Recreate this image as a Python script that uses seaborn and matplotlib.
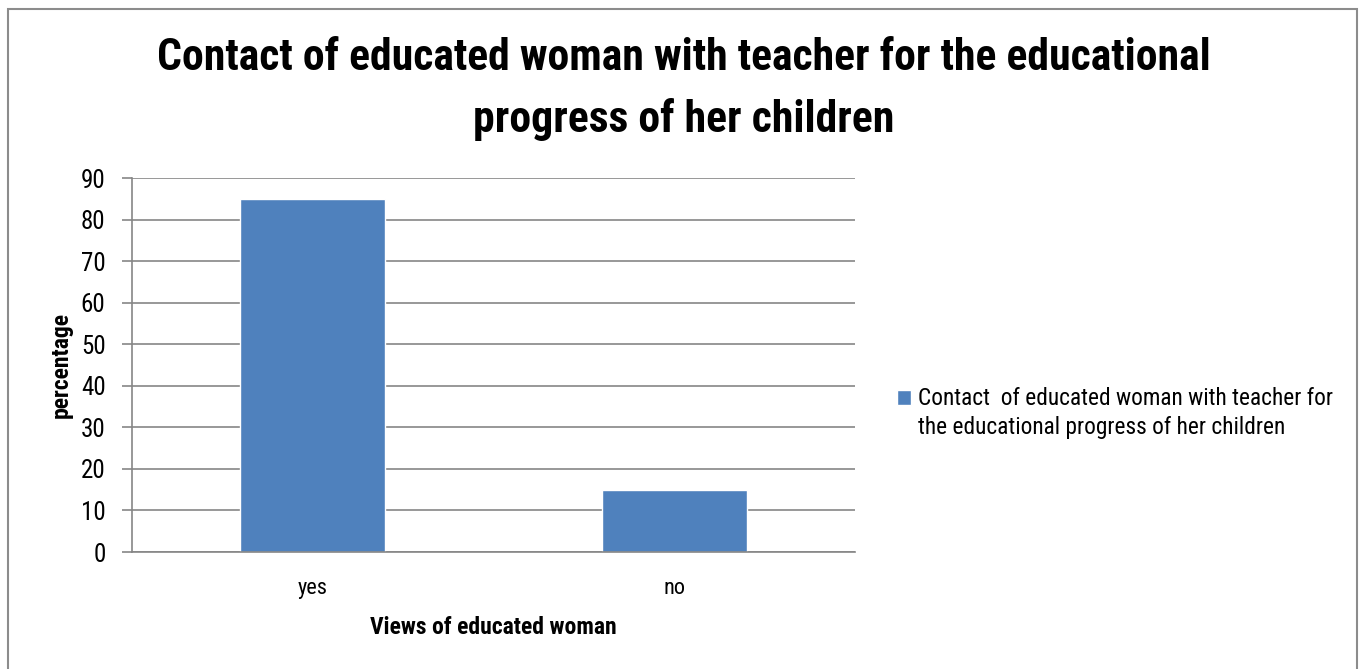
import matplotlib
matplotlib.use("Agg")
import matplotlib.pyplot as plt
import matplotlib.patches as mpatches
from matplotlib.legend_handler import HandlerPatch
import pandas as pd
import seaborn as sns

# Survey answers (percent)
categories = ["yes", "no"]
percentages = [85, 15]
series_name = "Contact  of educated woman with teacher for\nthe educational progress of her children"
title_text = "Contact of educated woman with teacher for the educational\nprogress of her children"
x_label = "Views of educated woman"
y_label = "percentage"
y_ticks = [0, 10, 20, 30, 40, 50, 60, 70, 80, 90]

df = pd.DataFrame({"view": categories, "pct": percentages, "series": series_name})

sns.set_theme(style="white")
plt.rcParams["font.family"] = ["Roboto Condensed", "DejaVu Sans"]
plt.rcParams["text.color"] = "black"

W, H = 1359, 669
fig = plt.figure(figsize=(W / 100, H / 100), dpi=100)
fig.patch.set_facecolor("white")

# outer chart frame
frame = mpatches.Rectangle((8 / W, -0.05), (1357 - 8) / W, 1.05 - 9 / H,
                           transform=fig.transFigure, fill=False,
                           edgecolor="#8c8c8c", linewidth=1.5)
fig.patches.append(frame)

ax = fig.add_axes([132 / W, 1 - 552 / H, (855 - 132) / W, (552 - 178) / H])

bar_color = "#4F81BD"
sns.barplot(data=df, x="view", y="pct", hue="series", palette=[bar_color],
            width=0.4, ax=ax, saturation=1, legend=True)

grid_c = "#868686"
ax.set_ylim(0, 90)
ax.set_xlim(-0.5, 1.5)
ax.set_yticks(y_ticks)
ax.yaxis.grid(True, color=grid_c, linewidth=1.2)
ax.set_axisbelow(True)
for s in ["top", "right"]:
    ax.spines[s].set_visible(False)
for s in ["left", "bottom"]:
    ax.spines[s].set_color(grid_c)
    ax.spines[s].set_linewidth(1.2)
ax.tick_params(axis="y", length=7, width=1.2, color=grid_c, labelsize=18,
               labelcolor="black", pad=12, left=True)
ax.tick_params(axis="x", length=0, labelsize=16, labelcolor="black", pad=19)

ax.set_xlabel(x_label, fontsize=17, fontweight="bold", labelpad=12, color="black")
ax.set_ylabel(y_label, fontsize=17, fontweight="bold", labelpad=6, color="black")

fig.text(0.5 + 4 / W, 1 - 89 / H, title_text, ha="center", va="center",
         fontsize=31.5, fontweight="bold", linespacing=1.58, color="black")

LEG_FS = 16.8
LEG_LS = 1.35


def first_line_square(legend, orig_handle, xdescent, ydescent, width, height, fontsize):
    # put the swatch beside the first line of the two-line label
    return mpatches.Rectangle((-xdescent, -ydescent + LEG_LS * fontsize - 11), width, height)


handles, labels = ax.get_legend_handles_labels()
leg = ax.legend(handles, labels, loc="center left",
                bbox_to_anchor=(897 / W, 1 - 413 / H), bbox_transform=fig.transFigure,
                frameon=False, fontsize=LEG_FS, handlelength=0.6, handleheight=0.6,
                handletextpad=0.3, borderaxespad=0, borderpad=0,
                handler_map={mpatches.Rectangle: HandlerPatch(patch_func=first_line_square)})
for t in leg.get_texts():
    t.set_color("black")
    t.set_linespacing(LEG_LS)

fig.savefig("out.png", dpi=100, facecolor="white")
